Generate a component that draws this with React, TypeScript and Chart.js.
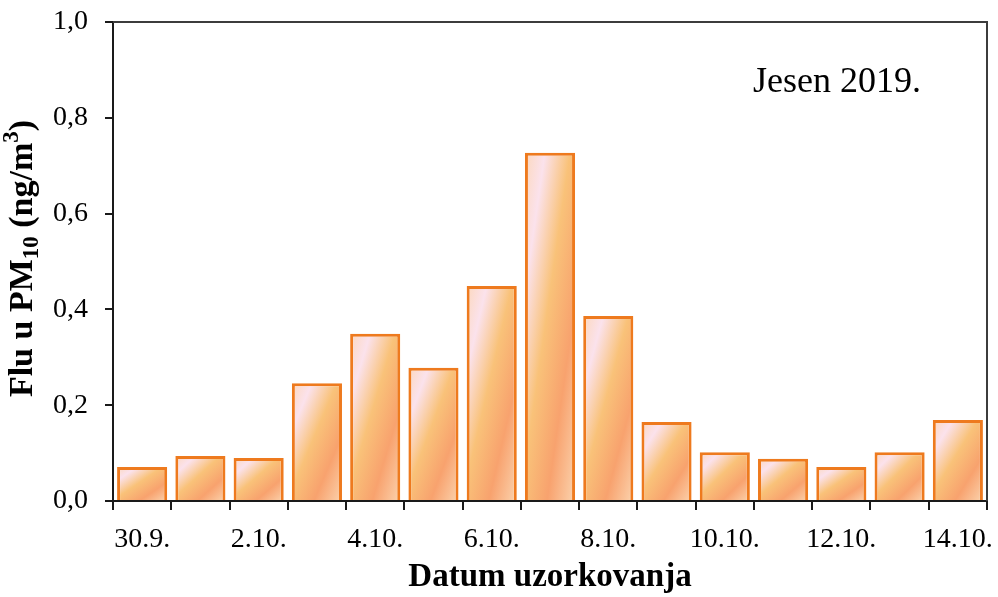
import React, { useEffect, useRef } from "react";
import { Chart, registerables } from "chart.js";

Chart.register(...registerables);

const categories = [
  "30.9.", "1.10.", "2.10.", "3.10.", "4.10.", "5.10.", "6.10.", "7.10.",
  "8.10.", "9.10.", "10.10.", "11.10.", "12.10.", "13.10.", "14.10.",
];
const fluValues = [
  0.071, 0.094, 0.090, 0.246, 0.349, 0.278, 0.449, 0.727, 0.386, 0.165,
  0.102, 0.088, 0.071, 0.102, 0.169,
];
const yTicks = [0, 0.2, 0.4, 0.6, 0.8, 1.0];
const xAxisTitle = "Datum uzorkovanja";
const yTitleParts = [
  { text: "Flu u PM", kind: "normal" },
  { text: "10", kind: "sub" },
  { text: " (ng/m", kind: "normal" },
  { text: "3", kind: "sup" },
  { text: ")", kind: "normal" },
];
const annotationText = "Jesen 2019.";

const SERIF = '"Liberation Serif", "Times New Roman", serif';
const BAR_PCT = 0.86;

function barGradient(ctx: any) {
  const chart = ctx.chart;
  const xs = chart.scales?.x;
  const ys = chart.scales?.y;
  if (ctx.type !== "data" || !xs || !ys || !xs.width) return "#f9bd7c";
  const i = ctx.dataIndex;
  const v = fluValues[i];
  const cw = (xs.width / categories.length) * BAR_PCT;
  const cx = xs.getPixelForValue(i);
  const top = ys.getPixelForValue(v);
  const base = ys.getPixelForValue(0);
  const w = cw;
  const h = Math.max(1, base - top);
  const mx = cx;
  const my = (top + base) / 2;
  const len = Math.sqrt(h * h + w * w);
  const dx = h / len;
  const dy = w / len;
  const L = (w * h) / len;
  const g = chart.ctx.createLinearGradient(mx - dx * L, my - dy * L, mx + dx * L, my + dy * L);
  g.addColorStop(0, "#fcd8bd");
  g.addColorStop(0.2, "#fbe2ec");
  g.addColorStop(0.45, "#f9c279");
  g.addColorStop(0.72, "#f8a26e");
  g.addColorStop(1, "#fbd3ae");
  return g;
}

const decorPlugin = {
  id: "decor",
  afterDraw(chart: any) {
    const { ctx, chartArea } = chart;
    const { left, right, top, bottom } = chartArea;
    ctx.save();
    // frame top & right
    ctx.strokeStyle = "#3c3c3c";
    ctx.lineWidth = 2;
    ctx.beginPath();
    ctx.moveTo(left, top);
    ctx.lineTo(right, top);
    ctx.lineTo(right, bottom);
    ctx.stroke();

    // annotation
    ctx.fillStyle = "#000";
    ctx.font = `36px ${SERIF}`;
    ctx.textAlign = "left";
    ctx.textBaseline = "alphabetic";
    ctx.fillText(annotationText, left + (right - left) * 0.7323, top + (bottom - top) * 0.1461);

    // y title with sub/sup
    const big = 34;
    const small = 23;
    const segs = yTitleParts.map((p) => {
      const size = p.kind === "normal" ? big : small;
      ctx.font = `bold ${size}px ${SERIF}`;
      return { ...p, size, w: ctx.measureText(p.text).width };
    });
    const total = segs.reduce((s, p) => s + p.w, 0);
    ctx.translate(32, (top + bottom) / 2 - 3);
    ctx.rotate(-Math.PI / 2);
    let xpos = -total / 2;
    for (const s of segs) {
      ctx.font = `bold ${s.size}px ${SERIF}`;
      const dy = s.kind === "sub" ? 6 : s.kind === "sup" ? -14 : 0;
      ctx.fillText(s.text, xpos, dy);
      xpos += s.w;
    }
    ctx.restore();
  },
};

export default function App() {
  const ref = useRef<HTMLCanvasElement | null>(null);
  useEffect(() => {
    if (!ref.current) return;
    const chart = new Chart(ref.current, {
      type: "bar",
      data: {
        labels: categories,
        datasets: [
          {
            data: fluValues,
            backgroundColor: barGradient as any,
            borderColor: "#ee7a1e",
            borderWidth: 3,
            borderSkipped: "start",
            categoryPercentage: 1,
            barPercentage: BAR_PCT,
          },
        ],
      },
      options: {
        responsive: false,
        animation: false,
        events: [],
        layout: { padding: { top: 22, right: 11, left: 0, bottom: 0 } },
        plugins: {
          legend: { display: false },
          tooltip: { enabled: false },
          title: { display: false },
        },
        scales: {
          x: {
            type: "category",
            offset: true,
            z: 1,
            grid: {
              offset: true,
              drawOnChartArea: false,
              drawTicks: true,
              tickLength: 9,
              tickColor: "#1a1a1a",
              lineWidth: 2,
            },
            border: { display: true, color: "#1a1a1a", width: 2 },
            ticks: {
              autoSkip: false,
              maxRotation: 0,
              minRotation: 0,
              padding: 13,
              color: "#000",
              font: { family: SERIF, size: 28 },
              callback: (_v: any, i: number) => (i % 2 === 0 ? categories[i] : ""),
            },
            title: {
              display: true,
              text: xAxisTitle,
              color: "#000",
              font: { family: SERIF, size: 33, weight: "bold" },
              padding: { top: 0, bottom: 0 },
            },
            afterFit: (s: any) => {
              s.height = 96;
              s.paddingLeft = 0;
              s.paddingRight = 0;
              s.paddingTop = 0;
              s.paddingBottom = 0;
            },
          },
          y: {
            min: 0,
            max: 1,
            z: 1,
            afterBuildTicks: (s: any) => {
              s.ticks = yTicks.map((v) => ({ value: v }));
            },
            grid: {
              drawOnChartArea: false,
              drawTicks: true,
              tickLength: 8,
              tickColor: "#1a1a1a",
              lineWidth: 2,
            },
            border: { display: true, color: "#1a1a1a", width: 2 },
            ticks: {
              padding: 17,
              color: "#000",
              font: { family: SERIF, size: 28 },
              callback: (v: any) => Number(v).toFixed(1).replace(".", ","),
            },
            afterFit: (s: any) => {
              s.width = 113;
              s.paddingLeft = 0;
              s.paddingRight = 0;
              s.paddingTop = 0;
              s.paddingBottom = 0;
            },
          },
        },
      },
      plugins: [decorPlugin],
    });
    return () => chart.destroy();
  }, []);
  return (
    <div style={{ position: "fixed", left: 0, top: 0, width: 998, height: 597, background: "#fff" }}>
      <canvas ref={ref} width={998} height={597} style={{ width: 998, height: 597, display: "block" }} />
    </div>
  );
}
